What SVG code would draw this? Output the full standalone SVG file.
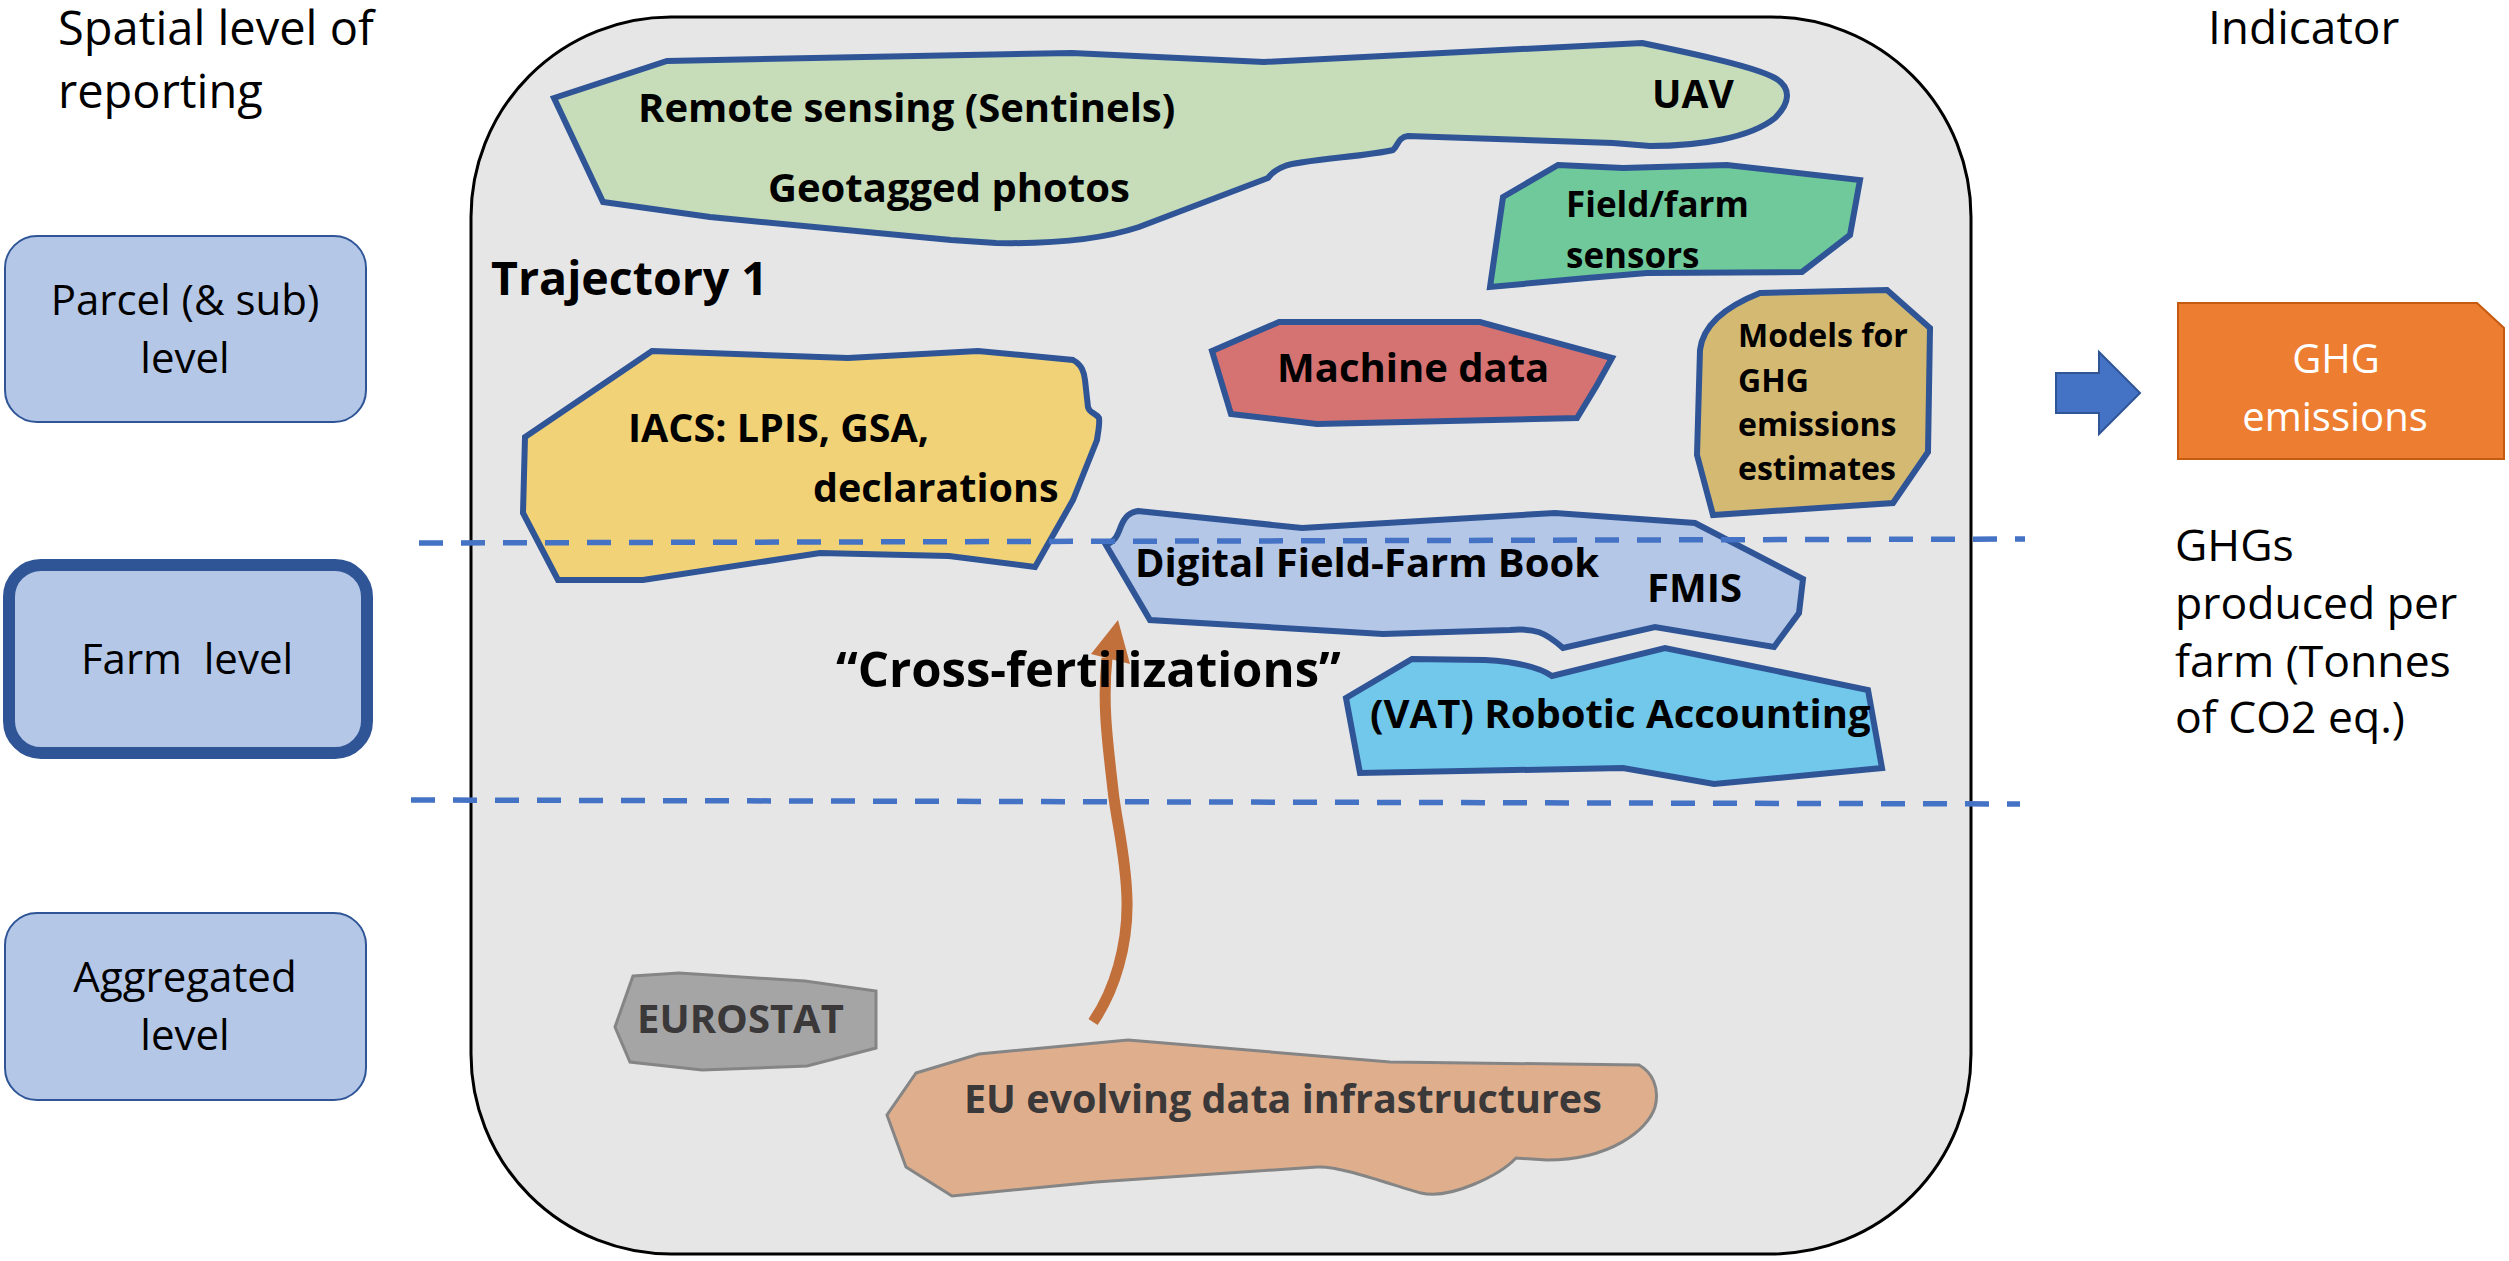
<svg xmlns="http://www.w3.org/2000/svg" width="2509" height="1261" viewBox="0 0 2509 1261">
  <style>
    text { font-family: "Open Sans", "DejaVu Sans", sans-serif; }
    .reg { font-weight: 400; fill: #000; }
    .bold { font-weight: 700; fill: #000; }
    .level { fill: #B4C7E7; stroke: #2F5597; stroke-width: 2; }
    .blob { stroke: #2F5597; stroke-width: 6; stroke-linejoin: miter; stroke-miterlimit: 4; }
    .greyblob { stroke: #858585; stroke-width: 3; stroke-linejoin: miter; }
    .dash { fill: none; stroke: #4472C4; stroke-width: 5.5; stroke-dasharray: 24 18; }
  </style>

  <!-- Column headings -->
  <g id="heading-left">
    <text class="reg" x="58" y="45" font-size="47">Spatial level of</text>
    <text class="reg" x="58" y="108" font-size="47">reporting</text>
  </g>
  <g id="heading-right">
    <text class="reg" x="2208" y="44" font-size="46">Indicator</text>
  </g>

  <!-- Spatial levels -->
  <g id="parcel-level">
    <rect class="level" x="5" y="236" width="361" height="186" rx="32"/>
    <text class="reg" x="185" y="315" font-size="42" text-anchor="middle">Parcel (&amp; sub)</text>
    <text class="reg" x="185" y="373" font-size="42" text-anchor="middle">level</text>
  </g>
  <g id="farm-level">
    <rect x="9" y="565" width="358" height="188" rx="32" fill="#B4C7E7" stroke="#2F5597" stroke-width="12"/>
    <text class="reg" x="187" y="674" font-size="42" text-anchor="middle" xml:space="preserve">Farm  level</text>
  </g>
  <g id="aggregated-level">
    <rect class="level" x="5" y="913" width="361" height="187" rx="32"/>
    <text class="reg" x="185" y="992" font-size="42" text-anchor="middle">Aggregated</text>
    <text class="reg" x="185" y="1050" font-size="42" text-anchor="middle">level</text>
  </g>

  <!-- Trajectory panel -->
  <g id="trajectory-panel">
    <rect x="471" y="17" width="1500" height="1237" rx="200" fill="#E7E6E6" stroke="#000" stroke-width="3"/>
    <text class="bold" x="491" y="295" font-size="46.5">Trajectory 1</text>
  </g>

  <g id="remote-sensing">
    <path class="blob" fill="#C7DCB9" d="M554,98 L667,61 L1072,53 L1264,62 L1642,43 C1700,55 1755,67 1775,78 C1792,88 1790,103 1775,118 C1750,138 1700,146 1650,146 L1613,143 L1408,136 C1398,137 1398,146 1393,150 C1370,156 1300,160 1285,166 C1272,171 1270,176 1268,178 L1139,227 C1100,240 1050,244 996,243 L951,240 L710,217 L603,202 Z"/>
    <text class="bold" x="638" y="122" font-size="40">Remote sensing (Sentinels)</text>
    <text class="bold" x="768" y="202" font-size="40">Geotagged photos</text>
    <text class="bold" x="1652" y="108" font-size="39">UAV</text>
  </g>

  <g id="field-farm-sensors">
    <path class="blob" fill="#70C99B" d="M1558,165 L1623,168 L1727,165 L1860,180 L1850,235 L1802,272 L1647,273 L1587,278 L1490,287 L1503,197 Z"/>
    <text class="bold" x="1566" y="217" font-size="35">Field/farm</text>
    <text class="bold" x="1566" y="268" font-size="35">sensors</text>
  </g>

  <g id="machine-data">
    <path class="blob" fill="#D57272" d="M1212,351 L1279,322 L1480,322 L1612,358 L1597,385 L1577,418 L1317,424 L1231,414 Z"/>
    <text class="bold" x="1277" y="382" font-size="40">Machine data</text>
  </g>

  <g id="ghg-models">
    <path class="blob" fill="#D4B973" d="M1760,293 L1887,290 L1930,328 L1928,452 L1893,503 L1713,515 L1697,455 L1700,350 Q1704,315 1760,293 Z"/>
    <text class="bold" x="1738" y="347" font-size="32">Models for</text>
    <text class="bold" x="1738" y="392" font-size="32">GHG</text>
    <text class="bold" x="1738" y="436" font-size="32">emissions</text>
    <text class="bold" x="1738" y="480" font-size="32">estimates</text>
  </g>

  <g id="iacs">
    <path class="blob" fill="#F2D277" d="M652,351 L848,358 L978,351 L1073,360 C1082,365 1084,372 1085,380 L1088,407 C1089,413 1096,413 1099,418 C1100,424 1098,432 1097,440 L1073,500 L1035,567 L949,556 L820,553 L643,580 L558,580 L523,513 L525,437 Z"/>
    <text class="bold" x="628" y="442" font-size="39.5">IACS: LPIS, GSA,</text>
    <text class="bold" x="813" y="502" font-size="39.5">declarations</text>
  </g>

  <g id="digital-farm-book">
    <path class="blob" fill="#B4C7E7" d="M1138,511 L1302,528 L1555,513 L1695,523 L1803,579 L1799,613 L1774,647 L1655,627 L1563,648 C1545,632 1535,628 1510,630 L1383,634 L1150,620 L1106,545 C1116,541 1118,534 1121,526 C1125,516 1130,512 1138,511 Z"/>
    <text class="bold" x="1135" y="577" font-size="40">Digital Field-Farm Book</text>
    <text class="bold" x="1647" y="602" font-size="40">FMIS</text>
  </g>

  <g id="robotic-accounting">
    <path class="blob" fill="#72C8EA" d="M1412,659 L1485,660 C1520,662 1540,668 1552,676 L1665,648 L1868,690 L1882,768 L1714,784 L1623,768 L1360,773 L1346,698 Z"/>
    <text class="bold" x="1370" y="728" font-size="40">(VAT) Robotic Accounting</text>
  </g>

  <g id="eurostat">
    <path class="greyblob" fill="#A5A5A5" d="M633,976 L679,973 L805,981 L876,991 L876,1048 L807,1066 L702,1070 L630,1062 L615,1027 Z"/>
    <text class="bold" x="637" y="1033" font-size="40" style="fill:#3A3838">EUROSTAT</text>
  </g>

  <g id="eu-infrastructures">
    <path class="greyblob" fill="#DFAE8D" d="M916,1073 L979,1054 L1128,1040 L1390,1062 L1639,1065 C1652,1072 1660,1088 1655,1107 C1648,1130 1610,1160 1547,1160 L1516,1158 C1500,1175 1450,1200 1421,1193 C1400,1188 1340,1165 1317,1167 L1096,1182 L952,1196 L906,1167 L887,1115 Z"/>
    <text class="bold" x="964" y="1113" font-size="39.5" style="fill:#3A3838">EU evolving data infrastructures</text>
  </g>

  <!-- Indicator -->
  <g id="ghg-emissions">
    <path d="M2178,303 L2477,303 L2504,328 L2504,459 L2178,459 Z" fill="#ED7D31" stroke="#C55A11" stroke-width="2"/>
    <text x="2336" y="373" font-size="40" text-anchor="middle" fill="#FFFFFF">GHG</text>
    <text x="2335" y="431" font-size="40" text-anchor="middle" fill="#FFFFFF">emissions</text>
  </g>
  <g id="indicator-note">
    <text class="reg" x="2175" y="561" font-size="44.5">GHGs</text>
    <text class="reg" x="2175" y="619" font-size="44.5">produced per</text>
    <text class="reg" x="2175" y="677" font-size="44.5">farm (Tonnes</text>
    <text class="reg" x="2175" y="733" font-size="44.5">of CO2 eq.)</text>
  </g>

  <!-- Connectors and level boundaries -->
  <g id="connectors">
    <line class="dash" x1="419" y1="543" x2="2025" y2="539"/>
    <line class="dash" x1="411" y1="800" x2="2020" y2="804"/>
    <path d="M2056,373 L2099,373 L2099,352 L2140,393 L2099,434 L2099,413 L2056,413 Z" fill="#4472C4" stroke="#2F5597" stroke-width="2"/>
    <path d="M1093,1022 C1115,990 1128,945 1127,900 C1126,855 1116,820 1113,790 C1108,745 1102,705 1107,658" fill="none" stroke="#C1703B" stroke-width="11"/>
    <polygon points="1118,620 1130,664 1091,654" fill="#C1703B"/>
  </g>

  <!-- Label that sits over the arrow shaft -->
  <g id="cross-fertilizations-label">
    <text class="bold" x="836" y="687" font-size="49">“Cross-fertilizations”</text>
  </g>
</svg>
